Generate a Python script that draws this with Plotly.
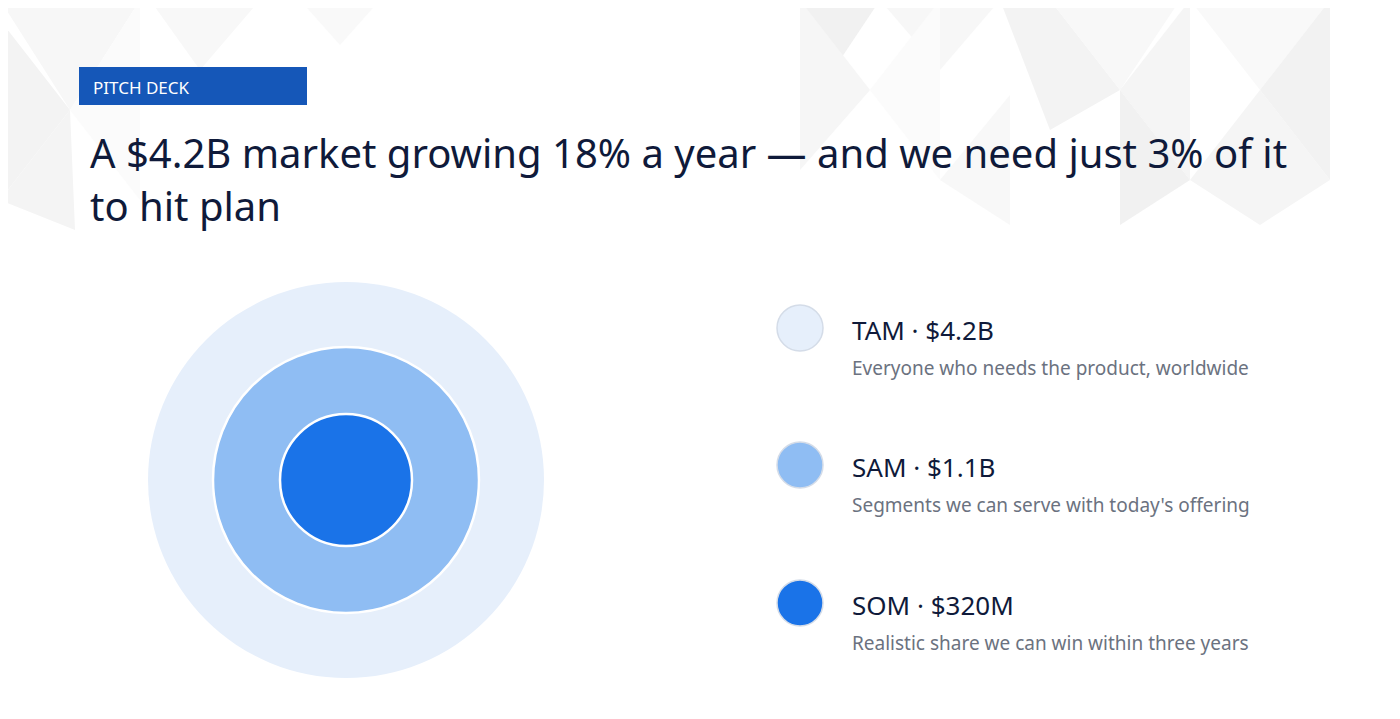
import plotly.graph_objects as go

labels = ["TAM · $4.2B", "SAM · $1.1B", "SOM · $320M"]
descriptions = ["Everyone who needs the product, worldwide",
                "Segments we can serve with today's offering",
                "Realistic share we can win within three years"]
market_values_bn = [4.2, 1.1, 0.32]
colors = ["#e6effb", "#8fbdf3", "#1a73e8"]
ring_radii_px = [198, 133, 66]

W, H = 1400, 719
fig = go.Figure()
fig.add_trace(go.Scatter(x=[None], y=[None], showlegend=False))

shapes = []
bg = [
    ("M0,20 L70,110 L0,200 Z", "#f3f3f3"),
    ("M0,0 L140,0 L70,110 Z", "#f7f7f7"),
    ("M70,110 L140,0 L140,200 Z", "#fbfbfb"),
    ("M0,200 L70,110 L75,230 Z", "#f4f4f4"),
    ("M150,0 L260,0 L200,70 Z", "#f8f8f8"),
    ("M300,0 L380,0 L340,45 Z", "#f9f9f9"),
    ("M800,0 L880,0 L840,60 Z", "#f1f1f1"),
    ("M880,0 L1000,0 L940,70 Z", "#f7f7f7"),
    ("M800,0 L870,90 L800,170 Z", "#f6f6f6"),
    ("M870,90 L940,0 L940,180 Z", "#fbfbfb"),
    ("M1000,0 L1050,0 L1120,90 L1050,130 Z", "#f3f3f3"),
    ("M1050,0 L1180,0 L1120,90 Z", "#f8f8f8"),
    ("M1120,90 L1190,0 L1190,180 Z", "#f5f5f5"),
    ("M1120,90 L1190,180 L1120,225 Z", "#f1f1f1"),
    ("M1190,0 L1330,0 L1260,90 Z", "#f9f9f9"),
    ("M1190,180 L1260,90 L1330,180 L1260,225 Z", "#f5f5f5"),
    ("M1260,90 L1330,0 L1330,180 Z", "#f2f2f2"),
    ("M940,180 L1010,95 L1010,225 Z", "#f8f8f8"),
]
for p, c in bg:
    shapes.append(dict(type="path", path=p, fillcolor=c, line=dict(width=0), layer="below"))

shapes.append(dict(type="rect", x0=79, x1=307, y0=67, y1=105, fillcolor="#1557b8",
                   line=dict(width=0)))

cx, cy = 346, 480
for i, r in enumerate(ring_radii_px):
    shapes.append(dict(type="circle", x0=cx - r, x1=cx + r, y0=cy - r, y1=cy + r,
                       fillcolor=colors[i],
                       line=dict(color="white" if i else colors[i], width=2.5 if i else 0)))

ann = [
    dict(x=91, y=87, text="PITCH DECK", font=dict(size=17, color="white")),
    dict(x=88, y=152, text="A $4.2B market growing 18% a year — and we need just 3% of it",
         font=dict(size=40, color="#0f1a3a")),
    dict(x=88, y=205, text="to hit plan", font=dict(size=40, color="#0f1a3a")),
]
ys = [328, 465, 603]
for i in range(3):
    shapes.append(dict(type="circle", x0=777, x1=823, y0=ys[i] - 23, y1=ys[i] + 23,
                       fillcolor=colors[i], line=dict(color="#d4dce8", width=1.5)))
    ann.append(dict(x=850, y=ys[i] + 2, text=labels[i], font=dict(size=26, color="#0f1a3a")))
    ann.append(dict(x=850, y=ys[i] + 40, text=descriptions[i], font=dict(size=19, color="#6b7280")))
for a in ann:
    a.update(xref="x", yref="y", xanchor="left", yanchor="middle", showarrow=False)

fig.update_layout(
    width=W, height=H, margin=dict(l=0, r=0, t=0, b=0),
    paper_bgcolor="white", plot_bgcolor="white",
    font=dict(family="Noto Sans"),
    xaxis=dict(range=[8, W + 8], visible=False, fixedrange=True),
    yaxis=dict(range=[H + 8, 8], visible=False, fixedrange=True),
    shapes=shapes, annotations=ann, showlegend=False,
)
fig.write_html("out.html", config={"displayModeBar": False})
